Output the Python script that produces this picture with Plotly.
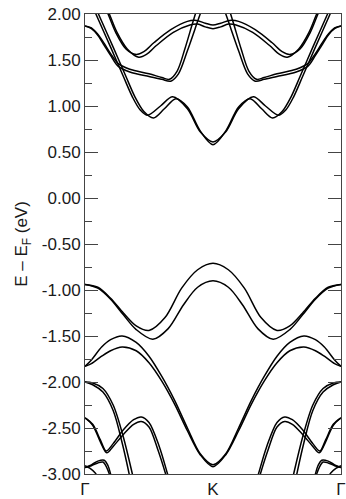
import plotly.graph_objects as go

# ---- axis data ----
k_tick_vals = [0, 1, 2]
k_tick_text = ["Γ", "K", "Γ"]
e_tick_vals = [2.0, 1.5, 1.0, 0.5, 0.0, -0.5, -1.0, -1.5, -2.0, -2.5, -3.0]
e_tick_text = ["2.00", "1.50", "1.00", "0.50", "0.00", "-0.50", "-1.00",
               "-1.50", "-2.00", "-2.50", "-3.00"]

# ---- bands read along Γ→K (k as fraction of Γ–K); path Γ-K-Γ is mirrored ----
# conduction bands
c1a_k = [0.06, 0.085, 0.2, 0.3, 0.37, 0.43, 0.49, 0.59, 0.685, 0.8, 0.9, 1.0]
c1a_e = [2.08, 2.00, 1.64, 1.32, 1.10, 0.96, 0.90, 1.00, 1.10, 0.97, 0.72, 0.61]
c1b_k = [0.08, 0.105, 0.22, 0.32, 0.39, 0.46, 0.535, 0.62, 0.71, 0.8, 0.9, 1.0]
c1b_e = [2.08, 2.00, 1.64, 1.32, 1.10, 0.94, 0.87, 0.97, 1.08, 0.99, 0.73, 0.58]

c2a_k = [0.0, 0.05, 0.1, 0.15, 0.2, 0.26, 0.35, 0.5, 0.6, 0.66, 0.72, 0.78, 0.84, 0.88]
c2a_e = [1.87, 1.85, 1.78, 1.68, 1.57, 1.46, 1.40, 1.35, 1.31, 1.29, 1.38, 1.62, 1.90, 2.08]
c2b_k = [0.0, 0.05, 0.1, 0.15, 0.2, 0.26, 0.35, 0.5, 0.6, 0.67, 0.73, 0.8, 0.88, 0.92]
c2b_e = [1.87, 1.84, 1.77, 1.66, 1.55, 1.43, 1.37, 1.32, 1.29, 1.27, 1.35, 1.60, 1.92, 2.08]

c3a_k = [0.14, 0.18, 0.24, 0.32, 0.40, 0.46, 0.54, 0.67, 0.80, 0.87, 0.94, 1.0]
c3a_e = [2.12, 2.00, 1.80, 1.62, 1.56, 1.59, 1.69, 1.83, 1.92, 1.93, 1.90, 1.88]
c3b_k = [0.15, 0.19, 0.25, 0.33, 0.42, 0.48, 0.56, 0.69, 0.82, 0.88, 0.94, 1.0]
c3b_e = [2.12, 2.00, 1.80, 1.62, 1.53, 1.56, 1.66, 1.80, 1.88, 1.89, 1.86, 1.84]

# valence bands
v1a_k = [0.0, 0.1, 0.2, 0.3, 0.4, 0.5, 0.625, 0.755, 0.88, 1.0]
v1a_e = [-0.94, -0.97, -1.09, -1.25, -1.39, -1.44, -1.30, -0.98, -0.78, -0.71]
v1b_k = [0.0, 0.1, 0.2, 0.3, 0.4, 0.53, 0.65, 0.77, 0.88, 1.0]
v1b_e = [-0.94, -0.98, -1.10, -1.27, -1.43, -1.535, -1.42, -1.16, -0.97, -0.90]

v2a_k = [0.0, 0.05, 0.13, 0.2, 0.29, 0.4, 0.5, 0.6, 0.7, 0.8, 0.9, 1.0]
v2a_e = [-1.83, -1.76, -1.62, -1.54, -1.50, -1.57, -1.72, -1.94, -2.20, -2.50, -2.78, -2.90]
v2b_k = [0.0, 0.05, 0.13, 0.2, 0.29, 0.4, 0.5, 0.6, 0.7, 0.8, 0.9, 1.0]
v2b_e = [-1.83, -1.80, -1.72, -1.66, -1.62, -1.66, -1.79, -1.99, -2.24, -2.53, -2.79, -2.92]

v3a_k = [0.0, 0.06, 0.14, 0.22, 0.3, 0.37, 0.41]
v3a_e = [-2.00, -2.01, -2.07, -2.25, -2.60, -3.00, -3.25]
v3b_k = [0.0, 0.06, 0.14, 0.22, 0.29, 0.345, 0.38]
v3b_e = [-2.00, -2.03, -2.11, -2.31, -2.66, -3.00, -3.25]

v4a_k = [0.0, 0.06, 0.12, 0.165, 0.22, 0.3, 0.38, 0.44, 0.5, 0.58, 0.645, 0.69]
v4a_e = [-2.39, -2.46, -2.63, -2.75, -2.67, -2.52, -2.41, -2.38, -2.44, -2.70, -3.00, -3.22]
v4b_k = [0.0, 0.06, 0.12, 0.17, 0.22, 0.3, 0.38, 0.44, 0.5, 0.57, 0.63, 0.675]
v4b_e = [-2.39, -2.47, -2.65, -2.77, -2.70, -2.57, -2.46, -2.43, -2.49, -2.74, -3.00, -3.22]

v5a_k = [0.0, 0.05, 0.1, 0.15, 0.18, 0.2, 0.22]
v5a_e = [-2.93, -2.90, -2.86, -2.85, -2.91, -3.00, -3.10]
v5b_k = [0.0, 0.05, 0.1, 0.14, 0.17, 0.19, 0.21]
v5b_e = [-2.93, -2.91, -2.88, -2.87, -2.93, -3.00, -3.10]

v6_k = [0.0, 0.04, 0.08, 0.11]
v6_e = [-2.91, -2.94, -2.99, -3.05]

bands = [
    (c1a_k, c1a_e), (c1b_k, c1b_e), (c2a_k, c2a_e), (c2b_k, c2b_e),
    (c3a_k, c3a_e), (c3b_k, c3b_e),
    (v1a_k, v1a_e), (v1b_k, v1b_e), (v2a_k, v2a_e), (v2b_k, v2b_e),
    (v3a_k, v3a_e), (v3b_k, v3b_e), (v4a_k, v4a_e), (v4b_k, v4b_e),
    (v5a_k, v5a_e), (v5b_k, v5b_e), (v6_k, v6_e),
]

fig = go.Figure()
for ks, es in bands:
    if ks[-1] >= 1.0:
        x = list(ks) + [2 - k for k in reversed(ks[:-1])]
        y = list(es) + list(reversed(es[:-1]))
    else:
        x = list(ks) + [None] + [2 - k for k in reversed(ks)]
        y = list(es) + [None] + list(reversed(es))
    fig.add_trace(go.Scatter(
        x=x, y=y, mode="lines", connectgaps=False, showlegend=False,
        hoverinfo="skip",
        line=dict(color="black", width=1.5, shape="spline", smoothing=0.9),
    ))

axis_color = "#444444"
font_family = "Liberation Sans, Arial, sans-serif"

fig.update_layout(
    width=346, height=499,
    margin=dict(l=85, r=0, t=14, b=22),
    paper_bgcolor="white", plot_bgcolor="white",
    font=dict(family=font_family, size=17, color="#1a1a1a"),
    xaxis=dict(
        range=[0, 2], tickvals=k_tick_vals, ticktext=k_tick_text,
        showgrid=False, zeroline=False, showline=True, linecolor=axis_color,
        linewidth=1, mirror=True, ticks="", ticklen=0,
        tickfont=dict(size=17), ticklabeloverflow="allow",
    ),
    yaxis=dict(
        range=[-3, 2], tickvals=e_tick_vals, ticktext=e_tick_text,
        showgrid=False, zeroline=False, showline=True, linecolor=axis_color,
        linewidth=1, mirror="ticks", ticks="inside", ticklen=13,
        tickcolor=axis_color, tickwidth=1, tickfont=dict(size=17),
        minor=dict(dtick=0.25, tick0=0, ticks="inside", ticklen=7,
                   tickcolor=axis_color, tickwidth=1),
        title=dict(text="E – E<sub>F</sub> (eV)", font=dict(size=17), standoff=9),
    ),
)

fig.write_html("out.html")
